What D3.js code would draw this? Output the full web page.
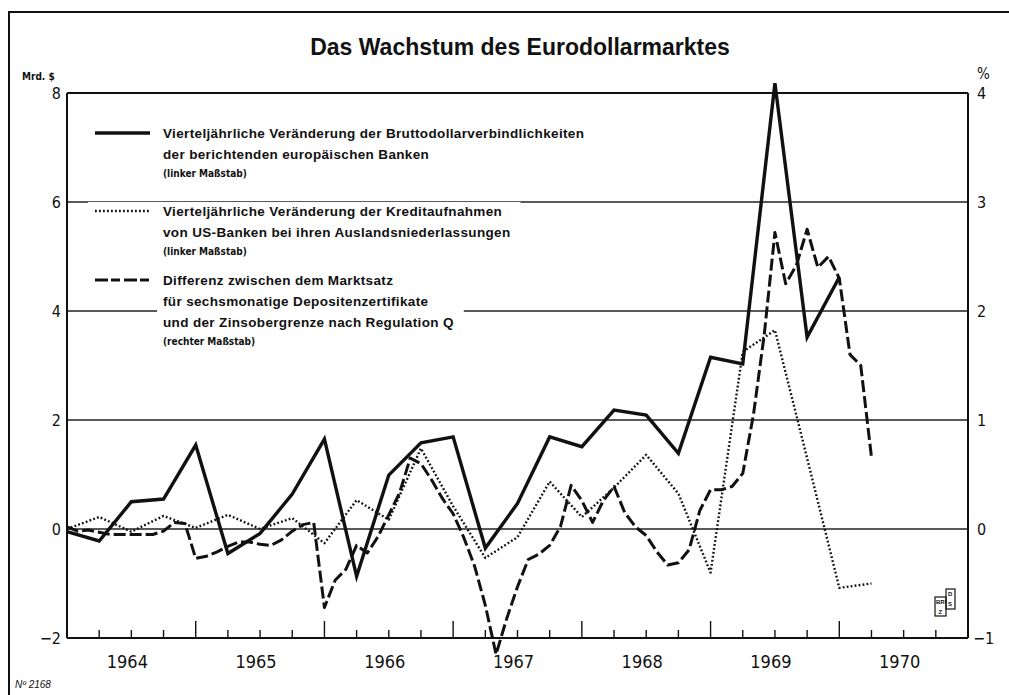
<!DOCTYPE html>
<html>
<head>
<meta charset="utf-8">
<script src="https://cdn.jsdelivr.net/npm/d3@7"></script>
<style>
  html, body { margin: 0; padding: 0; background: #fff; }
  svg { display: block; }
</style>
</head>
<body>
<svg id="chart" width="1009" height="695"></svg>
<script>
// ---------------- DATA ----------------
const title = "Das Wachstum des Eurodollarmarktes";
const leftTicks = [-2, 0, 2, 4, 6, 8];
const rightTicks = [-1, 0, 1, 2, 3, 4];
const yearLabels = ["1964", "1965", "1966", "1967", "1968", "1969", "1970"];
const startYear = 1964;           // first point = end of 1963 Q4

// Quarterly change in gross dollar liabilities of reporting European banks (Mrd. $, left scale)
const bruttoValues = [-0.05, -0.22, 0.5, 0.55, 1.54, -0.45, -0.08, 0.64, 1.65, -0.87,
  0.99, 1.58, 1.69, -0.35, 0.47, 1.69, 1.51, 2.18, 2.09, 1.39,
  3.15, 3.03, 8.18, 3.52, 4.62];

// Quarterly change in borrowing of US banks from foreign branches (Mrd. $, left scale)
const usBankValues = [0.0, 0.22, -0.05, 0.24, 0.02, 0.26, 0.0, 0.2, -0.26, 0.53,
  0.17, 1.48, 0.42, -0.53, -0.15, 0.87, 0.22, 0.76, 1.36, 0.65,
  -0.8, 3.25, 3.65, 1.3, -1.08, -1.0];

// Monthly spread: CD market rate minus Regulation Q ceiling (%, right scale)
const spreadValues = [0.02, -0.02, -0.01, -0.03, -0.05, -0.05, -0.05, -0.05, -0.05, -0.02,
  0.06, 0.05, -0.27, -0.25, -0.21, -0.16, -0.12, -0.12, -0.14, -0.15,
  -0.1, -0.02, 0.04, 0.06, -0.72, -0.47, -0.37, -0.15, -0.22, -0.07,
  0.13, 0.33, 0.65, 0.6, 0.45, 0.28, 0.14, -0.08, -0.34, -0.7,
  -1.15, -0.82, -0.53, -0.28, -0.23, -0.15, 0.02, 0.4, 0.26, 0.06,
  0.26, 0.39, 0.15, 0.02, -0.06, -0.21, -0.33, -0.31, -0.19, 0.17,
  0.36, 0.36, 0.39, 0.51, 1.05, 1.78, 2.72, 2.25, 2.42, 2.75,
  2.4, 2.5, 2.3, 1.6, 1.5, 0.66];

const legendItems = [
  { style: "solid", lines: ["Vierteljährliche Veränderung der Bruttodollarverbindlichkeiten",
                            "der berichtenden europäischen Banken"], note: "(linker Maßstab)" },
  { style: "dotted", lines: ["Vierteljährliche Veränderung der Kreditaufnahmen",
                             "von US-Banken bei ihren Auslandsniederlassungen"], note: "(linker Maßstab)" },
  { style: "dashed", lines: ["Differenz zwischen dem Marktsatz",
                             "für sechsmonatige Depositenzertifikate",
                             "und der Zinsobergrenze nach Regulation Q"], note: "(rechter Maßstab)" }
];

// ---------------- LAYOUT ----------------
const svg = d3.select("#chart");
const L = 67, R = 968, T = 93, B = 638;
const ink = "#111";
const numFont = "'Liberation Sans Narrow', 'DejaVu Sans Condensed', 'Liberation Sans', sans-serif";
const txtFont = "'Liberation Sans', Arial, sans-serif";

const x = d3.scaleLinear().domain([1964, 1971]).range([L, R]);
const yL = d3.scaleLinear().domain([-2, 8]).range([B, T]);
const yR = d3.scaleLinear().domain([-1, 4]).range([B, T]);

const qDate = i => startYear + i / 4;
const mDate = i => startYear + i / 12;

// page frame
svg.append("line").attr("x1", 8).attr("x2", 1009).attr("y1", 12).attr("y2", 12)
  .attr("stroke", ink).attr("stroke-width", 2);
svg.append("line").attr("x1", 9).attr("x2", 9).attr("y1", 12).attr("y2", 695)
  .attr("stroke", ink).attr("stroke-width", 2);

// title
svg.append("text").attr("x", 520).attr("y", 55).attr("text-anchor", "middle")
  .attr("font-family", txtFont).attr("font-weight", "bold").attr("font-size", 23)
  .attr("fill", ink).text(title);

// unit labels
svg.append("text").attr("x", 22).attr("y", 80).attr("font-family", numFont)
  .attr("font-weight", "bold").attr("font-size", 10).attr("fill", ink).text("Mrd. $");
svg.append("text").attr("x", 977).attr("y", 79).attr("font-family", numFont)
  .attr("font-size", 15).attr("fill", ink).text("%");

// gridlines
const grid = svg.append("g");
leftTicks.filter(v => v > -2 && v < 8).forEach(v => {
  grid.append("line").attr("x1", L).attr("x2", R).attr("y1", yL(v)).attr("y2", yL(v))
    .attr("stroke", "#222").attr("stroke-width", 1.3);
});

// legend (with white knock-out behind text)
const leg = svg.append("g");
const legY = [133, 211, 280];
const lineGap = 21;
legendItems.forEach((it, i) => {
  const g = leg.append("g");
  const bg = g.append("rect").attr("fill", "#fff");
  const y0 = legY[i];
  const tg = g.append("g");
  it.lines.forEach((s, j) => {
    tg.append("text").attr("x", 163).attr("y", y0 + 5 + j * lineGap)
      .attr("font-family", txtFont).attr("font-weight", "bold").attr("font-size", 13.5)
      .attr("letter-spacing", 0.35).attr("fill", ink).text(s);
  });
  tg.append("text").attr("x", 163).attr("y", y0 + 4 + it.lines.length * lineGap - 2)
    .attr("font-family", numFont).attr("font-weight", "bold").attr("font-size", 10)
    .attr("fill", ink).text(it.note);
  const bb = tg.node().getBBox();
  let bx = bb.x - 6;
  if (i === 1) bx = 88;
  bg.attr("x", bx).attr("y", bb.y - 2).attr("width", bb.x + bb.width + 10 - bx)
    .attr("height", bb.height + 4);
  const smp = g.append("line").attr("x1", 95).attr("x2", 150).attr("y1", y0).attr("y2", y0)
    .attr("stroke", ink);
  if (it.style === "solid") smp.attr("stroke-width", 3.4);
  if (it.style === "dotted") smp.attr("stroke-width", 2.4).attr("stroke-dasharray", "1.8,2.2");
  if (it.style === "dashed") smp.attr("stroke-width", 3).attr("stroke-dasharray", "13,3,9,4");
});

// axes frame
const frame = svg.append("g").attr("stroke", ink).attr("fill", "none");
frame.append("line").attr("x1", L).attr("x2", R).attr("y1", T).attr("y2", T).attr("stroke-width", 2.2);
frame.append("line").attr("x1", L).attr("x2", R).attr("y1", B).attr("y2", B).attr("stroke-width", 2.2);
frame.append("line").attr("x1", L).attr("x2", L).attr("y1", T).attr("y2", B).attr("stroke-width", 2);
frame.append("line").attr("x1", R).attr("x2", R).attr("y1", T).attr("y2", B).attr("stroke-width", 2);

// x ticks (quarters, inward)
const qTicks = d3.range(1, 28).map(i => 1964 + i / 4);
svg.append("g").selectAll("line").data(qTicks).join("line")
  .attr("x1", d => x(d)).attr("x2", d => x(d))
  .attr("y1", B).attr("y2", d => (Math.abs(d - Math.round(d)) < 1e-6) ? B - 17 : B - 8)
  .attr("stroke", ink).attr("stroke-width", 1.4);

// year labels
svg.append("g").selectAll("text").data(yearLabels).join("text")
  .attr("x", d => x(+d + 0.5) - 4).attr("y", 668).attr("text-anchor", "middle")
  .attr("font-family", numFont).attr("font-size", 18).attr("fill", ink).text(d => d);

// y tick labels
svg.append("g").selectAll("text").data(leftTicks).join("text")
  .attr("x", 61).attr("y", d => yL(d) + 6).attr("text-anchor", "end")
  .attr("font-family", numFont).attr("font-size", 16).attr("fill", ink)
  .text(d => d < 0 ? "\u2212" + Math.abs(d) : d);
svg.append("g").selectAll("text").data(rightTicks).join("text")
  .attr("x", d => d < 0 ? 973 : 977).attr("y", d => yR(d) + 6).attr("text-anchor", "start")
  .attr("font-family", numFont).attr("font-size", 16).attr("fill", ink)
  .text(d => d < 0 ? "\u2212" + Math.abs(d) : d);

// series
const lineQ = d3.line().x((d, i) => x(qDate(i))).y(d => yL(d));
const lineM = d3.line().x((d, i) => x(mDate(i))).y(d => yR(d));

svg.append("path").datum(usBankValues).attr("d", lineQ)
  .attr("fill", "none").attr("stroke", ink).attr("stroke-width", 2.4)
  .attr("stroke-dasharray", "1.8,2.2").attr("stroke-linejoin", "round");
svg.append("path").datum(spreadValues).attr("d", lineM)
  .attr("fill", "none").attr("stroke", ink).attr("stroke-width", 3)
  .attr("stroke-dasharray", "12,4").attr("stroke-linejoin", "round");
svg.append("path").datum(bruttoValues).attr("d", lineQ)
  .attr("fill", "none").attr("stroke", ink).attr("stroke-width", 3.4)
  .attr("stroke-linejoin", "miter");

// footnote
svg.append("text").attr("x", 15).attr("y", 688).attr("font-family", txtFont)
  .attr("font-style", "italic").attr("font-size", 10).attr("fill", ink).text("Nº 2168");

// BIZ logo
const logo = svg.append("g").attr("fill", "none").attr("stroke", ink).attr("stroke-width", 1.2);
logo.append("rect").attr("x", 935).attr("y", 597).attr("width", 11).attr("height", 19);
logo.append("rect").attr("x", 946).attr("y", 589).attr("width", 9).attr("height", 20);
const lt = svg.append("g").attr("font-family", txtFont).attr("font-size", 6).attr("font-weight", "bold").attr("fill", ink);
lt.append("text").attr("x", 936).attr("y", 604).text("BRI");
lt.append("text").attr("x", 938.5).attr("y", 614).text("Z");
lt.append("text").attr("x", 948).attr("y", 596).text("D");
lt.append("text").attr("x", 948).attr("y", 606).text("S");
</script>
</body>
</html>
